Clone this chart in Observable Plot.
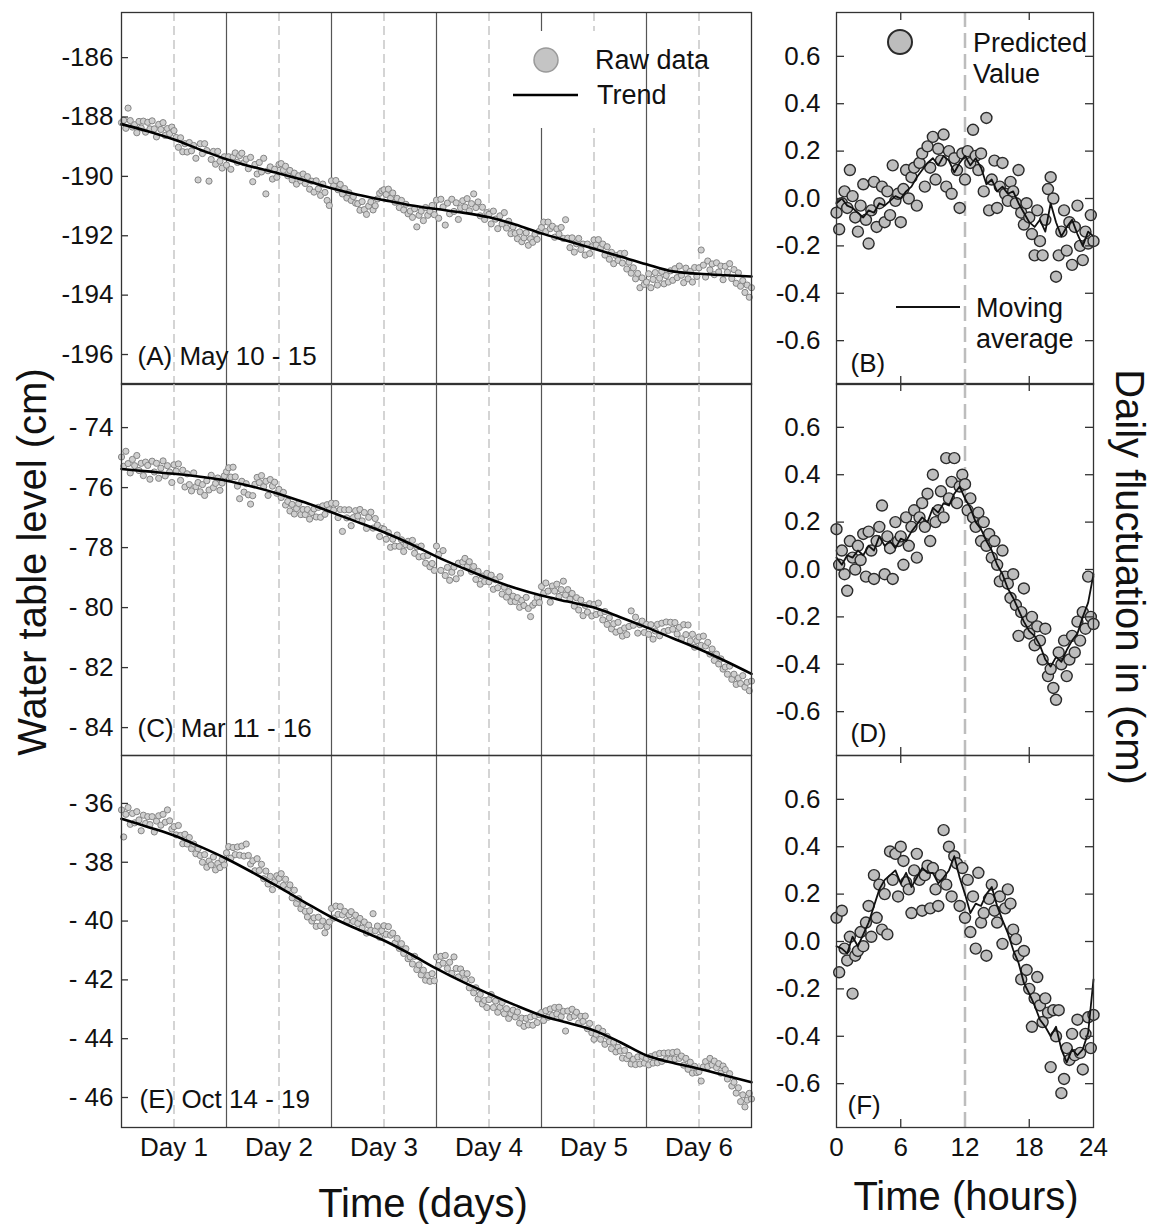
<!DOCTYPE html>
<html><head><meta charset="utf-8">
<script src="https://cdn.jsdelivr.net/npm/d3@7"></script>
<script src="https://cdn.jsdelivr.net/npm/@observablehq/plot@0.6"></script>
<style>
body{margin:0;background:#fff;}
#fig{position:relative;width:1155px;height:1224px;background:#fff;overflow:hidden;font-family:"Liberation Sans",Arial,sans-serif;}
</style></head><body><div id="fig"></div>
<script>
// ---------- tick values & labels ----------
const ticksA = [-196, -194, -192, -190, -188, -186];
const ticksC = [-84, -82, -80, -78, -76, -74];
const ticksE = [-46, -44, -42, -40, -38, -36];
const fluctTicks = [-0.6, -0.4, -0.2, 0, 0.2, 0.4, 0.6];
const hourTicks = [0, 6, 12, 18, 24];
const dayTicks = [0.5, 1.5, 2.5, 3.5, 4.5, 5.5];
const dayLabels = ["Day 1", "Day 2", "Day 3", "Day 4", "Day 5", "Day 6"];
const midnights = [1, 2, 3, 4, 5];
const panelLabels = ["(A) May 10 - 15", "(B)", "(C) Mar 11 - 16", "(D)", "(E) Oct 14 - 19", "(F)"];

// ---------- water table raw data (every 30 min, 6 days) ----------
const rawA = [
-188.19,-188.11,-188.38,-187.70,-188.12,-188.34,-188.26,-188.53,-188.15,-188.37,-188.14,-188.51,
-188.18,-188.40,-188.13,-188.40,-188.67,-188.25,-188.42,-188.19,-188.62,-188.39,-188.56,-188.34,
-188.46,-188.69,-189.02,-188.70,-189.17,-188.90,-189.18,-188.86,-189.14,-188.96,-189.39,-190.12,
-188.90,-189.23,-188.90,-189.13,-190.16,-189.43,-189.16,-189.59,-189.16,-189.49,-189.72,-189.34,
-189.62,-189.34,-189.76,-189.34,-189.21,-189.53,-189.30,-189.22,-189.54,-189.42,-189.74,-189.36,
-190.18,-189.60,-189.92,-189.53,-189.85,-189.39,-190.59,-189.81,-189.68,-190.09,-189.76,-190.03,
-189.60,-189.57,-189.79,-189.66,-189.98,-189.80,-190.12,-189.89,-190.26,-189.98,-190.15,-189.92,
-190.24,-190.01,-190.43,-190.16,-190.53,-190.15,-190.42,-190.64,-190.26,-190.54,-190.81,-190.98,
-190.15,-190.32,-190.14,-190.45,-190.27,-190.59,-190.41,-190.73,-190.55,-190.81,-190.68,-190.90,
-190.92,-191.14,-190.85,-191.12,-191.28,-191.00,-190.86,-191.13,-190.99,-190.76,-190.57,-190.49,
-190.45,-190.61,-190.43,-190.74,-190.56,-190.87,-190.74,-191.05,-190.81,-191.13,-190.94,-191.26,
-191.17,-191.38,-191.09,-191.70,-191.31,-191.17,-191.49,-191.05,-191.31,-191.17,-190.98,-191.29,
-190.80,-191.41,-190.77,-191.03,-191.64,-190.90,-191.26,-190.77,-191.18,-190.89,-191.45,-191.06,
-190.82,-191.03,-190.75,-191.16,-190.92,-190.59,-191.05,-190.86,-191.33,-191.04,-191.45,-191.22,
-191.28,-191.60,-191.17,-191.44,-191.76,-191.33,-191.60,-191.22,-191.74,-191.51,-191.93,-191.70,
-191.92,-192.10,-191.87,-192.20,-192.07,-191.90,-192.32,-192.10,-192.22,-191.95,-192.12,-191.85,
-191.72,-191.54,-191.86,-191.54,-191.76,-191.68,-192.05,-191.77,-191.94,-191.72,-192.09,-191.46,
-192.08,-192.40,-192.07,-192.55,-192.27,-192.09,-192.46,-192.28,-192.65,-192.28,-192.60,-192.37,
-192.14,-192.31,-192.13,-192.41,-192.28,-192.65,-192.37,-192.79,-192.56,-192.94,-192.66,-192.83,
-192.60,-192.92,-192.59,-193.12,-192.89,-193.26,-193.08,-193.45,-193.27,-193.75,-193.42,-193.64,
-193.56,-193.28,-193.75,-193.47,-193.24,-193.66,-193.43,-193.20,-193.62,-193.34,-193.56,-193.18,
-193.50,-193.11,-193.41,-193.02,-193.33,-193.58,-193.09,-193.45,-193.20,-193.56,-193.07,-193.37,
-193.08,-192.48,-192.99,-193.39,-192.85,-193.15,-192.95,-193.31,-192.91,-193.22,-193.02,-193.48,
-193.03,-193.23,-192.94,-193.44,-193.14,-193.60,-193.25,-193.70,-193.51,-193.91,-193.66,-194.07,
-193.75];
const rawC = [
-74.98,-75.29,-74.79,-75.20,-75.51,-75.06,-75.27,-74.93,-75.43,-75.19,-75.60,-75.15,
-75.26,-75.72,-75.12,-75.48,-75.19,-75.69,-75.35,-75.11,-75.61,-75.27,-75.48,-75.83,
-75.24,-75.45,-75.21,-75.76,-75.42,-75.98,-75.54,-75.90,-76.11,-75.51,-75.97,-75.83,
-76.14,-75.90,-76.26,-75.77,-76.08,-75.59,-76.00,-75.86,-75.68,-76.09,-75.85,-75.61,
-75.47,-75.34,-75.65,-75.32,-75.64,-75.95,-76.37,-75.79,-76.15,-75.87,-76.24,-76.55,
-76.27,-75.89,-75.66,-75.83,-75.60,-75.97,-75.79,-76.26,-75.73,-75.95,-75.82,-76.19,
-76.06,-76.33,-76.16,-76.58,-76.46,-76.78,-76.56,-76.88,-76.70,-76.53,-76.90,-76.73,
-76.90,-76.73,-77.05,-76.83,-76.71,-76.98,-76.66,-76.99,-76.61,-76.89,-76.57,-76.74,
-76.52,-76.75,-76.53,-77.00,-76.73,-77.46,-76.74,-77.01,-76.74,-77.27,-77.00,-76.77,
-76.95,-76.73,-77.11,-76.83,-77.36,-76.99,-76.82,-77.35,-77.03,-77.25,-77.63,-77.36,
-77.39,-77.72,-77.50,-77.99,-77.72,-77.95,-77.58,-77.96,-77.74,-78.13,-77.91,-77.79,
-77.97,-77.76,-78.19,-77.98,-78.31,-77.95,-78.29,-78.52,-78.26,-78.64,-78.53,-78.76,
-77.95,-78.23,-78.76,-78.10,-78.93,-78.66,-79.09,-78.82,-78.65,-79.04,-78.52,-78.85,
-78.48,-78.36,-78.64,-78.47,-78.80,-78.63,-79.06,-78.79,-79.22,-78.95,-79.13,-78.86,
-79.14,-78.92,-79.39,-79.07,-79.34,-78.97,-79.55,-79.32,-79.65,-79.47,-79.80,-79.62,
-79.80,-79.67,-79.99,-79.76,-79.93,-79.66,-80.03,-80.30,-79.92,-79.84,-79.66,-79.83,
-79.30,-79.52,-79.18,-79.45,-79.82,-79.28,-79.45,-79.22,-79.63,-79.40,-79.12,-79.58,
-79.40,-79.72,-79.53,-79.95,-79.67,-80.08,-79.75,-80.27,-79.93,-80.15,-79.87,-80.28,
-79.90,-80.23,-79.85,-80.18,-80.41,-80.13,-80.56,-80.34,-80.71,-80.54,-80.82,-80.49,
-80.77,-80.95,-80.68,-80.90,-80.63,-80.11,-80.59,-80.32,-80.85,-80.57,-80.45,-80.83,
-80.56,-80.89,-80.57,-81.05,-80.78,-80.56,-80.94,-80.52,-80.80,-80.48,-80.76,-80.49,
-80.72,-80.50,-80.88,-80.66,-81.04,-80.57,-80.90,-80.58,-81.11,-80.89,-81.32,-81.10,
-80.98,-81.26,-80.95,-81.28,-81.16,-81.55,-81.38,-81.76,-81.55,-81.88,-81.71,-82.05,
-81.98,-82.22,-81.95,-82.39,-82.22,-82.56,-82.35,-82.53,-82.27,-82.65,-82.49,-82.77,
-82.45];
const rawE = [
-36.22,-37.14,-36.37,-36.14,-36.71,-36.34,-36.66,-36.28,-36.56,-36.93,-36.40,-36.68,
-36.45,-36.72,-36.45,-36.97,-36.60,-36.42,-36.74,-36.37,-36.64,-36.22,-36.59,-36.87,
-36.79,-37.07,-36.75,-37.09,-37.37,-37.05,-37.38,-37.16,-37.54,-37.38,-37.71,-37.54,
-37.77,-38.00,-37.74,-38.17,-37.96,-38.09,-37.82,-38.26,-38.04,-38.18,-37.91,-38.09,
-37.68,-37.47,-37.86,-37.50,-37.74,-37.48,-37.76,-37.45,-37.79,-37.38,-37.77,-38.06,
-37.95,-38.29,-37.88,-38.28,-38.07,-38.56,-38.30,-38.74,-38.48,-38.93,-38.67,-38.46,
-38.55,-38.39,-38.79,-38.58,-38.92,-38.77,-39.21,-38.95,-39.40,-39.24,-39.58,-39.43,
-39.67,-39.86,-39.65,-40.00,-39.89,-40.18,-39.87,-40.16,-40.00,-40.40,-40.19,-40.03,
-39.57,-39.90,-39.49,-39.77,-39.51,-39.79,-39.67,-40.01,-39.79,-39.68,-40.01,-39.80,
-40.08,-39.91,-40.24,-40.03,-40.41,-40.14,-40.32,-39.75,-40.33,-40.17,-40.55,-40.33,
-40.16,-40.45,-40.19,-40.48,-40.41,-40.75,-40.59,-40.93,-40.77,-41.10,-40.94,-41.28,
-41.22,-41.46,-41.20,-41.65,-41.49,-41.83,-41.67,-42.01,-41.85,-42.05,-41.79,-42.03,
-41.22,-41.51,-41.20,-41.43,-41.17,-41.61,-41.40,-41.78,-41.22,-41.61,-41.90,-41.63,
-41.77,-42.00,-41.79,-42.27,-42.00,-42.44,-42.27,-42.65,-42.49,-42.82,-42.70,-42.94,
-42.67,-42.50,-42.94,-42.72,-43.10,-42.93,-42.77,-43.15,-42.98,-43.31,-43.15,-43.03,
-43.26,-43.09,-43.47,-43.30,-43.58,-43.31,-43.53,-43.26,-43.54,-43.22,-43.45,-43.18,
-43.11,-43.38,-43.05,-43.27,-42.99,-43.21,-42.94,-43.16,-42.93,-43.25,-43.07,-43.74,
-43.06,-43.28,-43.00,-43.23,-43.10,-43.47,-43.24,-43.41,-43.23,-43.66,-43.48,-43.80,
-44.02,-43.85,-43.64,-44.02,-43.75,-44.19,-43.92,-44.10,-44.34,-44.12,-44.45,-44.29,
-44.42,-44.66,-44.40,-44.68,-44.57,-44.86,-44.70,-44.88,-44.62,-44.86,-44.60,-44.83,
-44.67,-44.89,-44.61,-44.83,-44.55,-44.82,-44.50,-44.77,-44.49,-44.71,-44.48,-44.70,
-44.47,-44.69,-44.45,-44.67,-44.59,-44.90,-44.67,-45.04,-44.80,-45.17,-44.94,-45.15,
-45.12,-45.44,-44.96,-44.78,-44.95,-44.67,-44.89,-44.76,-44.98,-44.85,-45.17,-44.93,
-45.05,-45.37,-45.19,-45.61,-45.48,-45.85,-45.67,-46.14,-45.91,-46.32,-46.09,-45.86,
-46.05];

// ---------- trend (every quarter day) ----------
const trendA = [-188.24,-188.48,-188.76,-189.10,-189.42,-189.68,-189.90,-190.14,-190.40,-190.62,-190.80,-190.97,-191.10,-191.22,-191.38,-191.62,-191.92,-192.18,-192.44,-192.70,-192.96,-193.20,-193.28,-193.33,-193.37];
const trendC = [-75.38,-75.46,-75.54,-75.64,-75.77,-75.97,-76.21,-76.50,-76.82,-77.15,-77.49,-77.87,-78.30,-78.68,-79.04,-79.35,-79.60,-79.80,-80.00,-80.32,-80.66,-81.02,-81.38,-81.78,-82.21];
const trendE = [-36.52,-36.80,-37.09,-37.47,-37.88,-38.35,-38.85,-39.37,-39.87,-40.28,-40.66,-41.12,-41.62,-42.07,-42.47,-42.86,-43.21,-43.46,-43.72,-44.12,-44.57,-44.82,-45.02,-45.25,-45.48];

// ---------- daily fluctuation: predicted values (every 15 min) ----------
const ptsB = [
-0.06,-0.13,-0.02,0.03, -0.04,0.12,0.01,-0.08, -0.14,-0.03,0.06,-0.09, -0.19,-0.05,0.07,-0.12,
-0.02,0.05,-0.10,0.03, -0.07,0.14,-0.01,0.02, -0.10,0.04,0.12,0.00, 0.09,0.13,-0.03,0.15,
0.19,0.05,0.22,0.13, 0.26,0.08,0.21,0.16, 0.27,0.05,0.20,0.02, 0.17,0.12,-0.04,0.19,
0.08,0.20,0.15,0.29, 0.18,0.12,0.19,0.03, 0.34,-0.05,0.08,0.16, -0.04,0.05,0.15,0.02,
-0.01,0.07,0.03,-0.02, 0.12,-0.06,-0.11,-0.02, -0.08,-0.15,-0.24,-0.05, -0.18,-0.24,-0.09,0.04,
0.09,0.00,-0.33,-0.24, -0.14,-0.05,-0.22,-0.10, -0.28,-0.12,-0.03,-0.20, -0.26,-0.14,-0.19,-0.07,
-0.18];
const ptsD = [
0.17,0.02,0.08,-0.02, -0.09,0.12,0.05,0.00, 0.10,0.04,0.15,-0.03, 0.16,0.08,-0.04,0.12,
0.18,0.27,-0.02,0.14, 0.09,-0.04,0.20,0.12, 0.14,0.02,0.22,0.10, 0.18,0.25,0.05,0.22,
0.28,0.18,0.32,0.12, 0.40,0.20,0.25,0.33, 0.22,0.47,0.30,0.37, 0.47,0.28,0.35,0.40,
0.36,0.25,0.30,0.22, 0.18,0.24,0.12,0.20, 0.10,0.15,0.05,0.12, 0.02,-0.05,0.08,-0.03,
-0.06,-0.12,-0.02,-0.15, -0.28,-0.18,-0.08,-0.22, -0.27,-0.20,-0.32,-0.24, -0.30,-0.38,-0.25,-0.45,
-0.42,-0.50,-0.55,-0.35, -0.40,-0.30,-0.45,-0.38, -0.28,-0.35,-0.22,-0.30, -0.18,-0.25,-0.03,-0.20,
-0.23];
const ptsF = [
0.10,-0.13,0.13,-0.03, -0.08,0.02,-0.22,-0.06, -0.04,0.04,-0.02,0.08, 0.15,0.02,0.28,0.10,
0.24,0.05,0.20,0.03, 0.38,0.26,0.37,0.19, 0.40,0.34,0.25,0.22, 0.12,0.30,0.37,0.26,
0.13,0.28,0.32,0.14, 0.31,0.22,0.15,0.28, 0.47,0.24,0.40,0.19, 0.36,0.33,0.15,0.31,
0.10,0.26,0.04,0.19, -0.03,0.29,0.08,0.12, -0.06,0.18,0.24,0.13, 0.08,0.19,-0.01,0.14,
0.22,0.16,0.05,0.01, -0.06,-0.16,-0.04,-0.12, -0.20,-0.36,-0.24,-0.15, -0.27,-0.34,-0.24,-0.30,
-0.53,-0.29,-0.40,-0.29, -0.64,-0.58,-0.45,-0.50, -0.39,-0.48,-0.33,-0.47, -0.54,-0.39,-0.32,-0.45,
-0.31];

// ---------- moving averages (every 30 min) ----------
const maB = [-0.02,0.00,-0.03,-0.04,-0.06,-0.08,-0.05,-0.06,-0.02,-0.03,-0.01,0.01,0.00,0.03,0.05,0.09,0.12,0.15,0.17,0.14,0.18,0.16,0.11,0.15,0.18,0.14,0.17,0.13,0.06,0.08,0.03,0.05,0.02,0.03,-0.02,-0.06,-0.10,-0.12,-0.09,-0.14,-0.02,-0.10,-0.16,-0.12,-0.09,-0.15,-0.20,-0.14,-0.16];
const maD = [0.05,0.02,0.06,0.05,0.08,0.06,0.10,0.08,0.14,0.10,0.12,0.09,0.13,0.12,0.16,0.19,0.22,0.20,0.26,0.24,0.28,0.27,0.32,0.35,0.30,0.26,0.20,0.17,0.12,0.08,0.02,-0.02,-0.08,-0.12,-0.17,-0.22,-0.26,-0.28,-0.32,-0.38,-0.41,-0.37,-0.39,-0.34,-0.30,-0.27,-0.20,-0.14,-0.02];
const maF = [-0.02,-0.03,-0.05,0.02,-0.02,0.03,0.08,0.15,0.22,0.26,0.28,0.30,0.245,0.29,0.23,0.27,0.31,0.29,0.29,0.245,0.27,0.30,0.36,0.27,0.20,0.12,0.16,0.15,0.20,0.23,0.15,0.09,0.035,-0.035,-0.09,-0.175,-0.22,-0.27,-0.33,-0.36,-0.40,-0.36,-0.455,-0.51,-0.455,-0.48,-0.455,-0.385,-0.16];

// ---------- rendering ----------
const FONT = '"Liberation Sans", Arial, sans-serif';
const fig = document.getElementById("fig");
const FH = 372;

function place(svg, left, top) {
  svg.style.position = "absolute";
  svg.style.left = left + "px";
  svg.style.top = top + "px";
  fig.appendChild(svg);
}

function leftPanel(raw, trend, yDomain, yTicks, fmt, label, lx, ly, top, mt, mb, showX) {
  const FW = 630;
  const rows = raw.map((v, i) => ({t: i / 48, v}));
  const trows = trend.map((v, i) => ({t: i / 4, v}));
  const svg = Plot.plot({
    width: 770, height: mt + FH + mb,
    marginLeft: 121, marginRight: 19, marginTop: mt, marginBottom: mb,
    style: {fontFamily: FONT, fontSize: "26px", color: "#111", background: "transparent", overflow: "visible"},
    x: showX
      ? {domain: [0, 6], ticks: dayTicks, tickFormat: d => dayLabels[dayTicks.indexOf(d)], tickSize: 0, tickPadding: 10, label: null}
      : {domain: [0, 6], axis: null},
    y: {domain: yDomain, ticks: yTicks, tickFormat: fmt, tickSize: 0, tickPadding: 8, label: null},
    marks: [
      Plot.ruleX(midnights, {stroke: "#555", strokeWidth: 1.2}),
      Plot.ruleX(dayTicks, {stroke: "#c6c6c6", strokeWidth: 1.5, strokeDasharray: "9,5"}),
      Plot.dot(rows, {x: "t", y: "v", r: 3.1, fill: "#cfcfcf", stroke: "#858585", strokeWidth: 1}),
      Plot.line(trows, {x: "t", y: "v", stroke: "#000", strokeWidth: 2.6, curve: "catmull-rom"}),
      Plot.frame({stroke: "#333", strokeWidth: 1.3}),
      Plot.ruleY(yTicks, {stroke: "#333", strokeWidth: 1.3, insetRight: FW - 7}),
      Plot.text([label], {frameAnchor: "bottom-left", dx: lx, dy: ly, textAnchor: "start", lineAnchor: "middle", fontSize: 26, fill: "#111"})
    ]
  });
  place(svg, 0, top);
}

function rightPanel(pts, ma, label, lx, ly, top, mt, mb, showX) {
  const FW = 257;
  const rows = pts.map((v, i) => ({t: i / 4, v}));
  const mrows = ma.map((v, i) => ({t: i / 2, v}));
  const svg = Plot.plot({
    width: 380, height: mt + FH + mb,
    marginLeft: 96, marginRight: 27, marginTop: mt, marginBottom: mb,
    style: {fontFamily: FONT, fontSize: "26px", color: "#111", background: "transparent", overflow: "visible"},
    x: showX
      ? {domain: [0, 24], ticks: hourTicks, tickFormat: d => String(d), tickSize: 0, tickPadding: 10, label: null}
      : {domain: [0, 24], axis: null},
    y: {domain: [-0.785, 0.785], ticks: fluctTicks, tickFormat: d => d.toFixed(1), tickSize: 0, tickPadding: 16, label: null},
    marks: [
      Plot.ruleX([12], {stroke: "#bdbdbd", strokeWidth: 2.5, strokeDasharray: "15,6"}),
      Plot.dot(rows, {x: "t", y: "v", r: 5.5, fill: "#bdbdbd", stroke: "#2a2a2a", strokeWidth: 1.4}),
      Plot.line(mrows, {x: "t", y: "v", stroke: "#111", strokeWidth: 1.8}),
      Plot.frame({stroke: "#333", strokeWidth: 1.3}),
      Plot.ruleY(fluctTicks, {stroke: "#333", strokeWidth: 1.3, insetRight: FW - 8}),
      Plot.ruleY(fluctTicks, {stroke: "#333", strokeWidth: 1.3, insetLeft: FW - 8}),
      Plot.ruleX([6, 18], {stroke: "#333", strokeWidth: 1.3, insetBottom: FH - 8}),
      Plot.ruleX([6, 18], {stroke: "#333", strokeWidth: 1.3, insetTop: FH - 8}),
      Plot.text([label], {frameAnchor: "bottom-left", dx: lx, dy: ly, textAnchor: "start", lineAnchor: "middle", fontSize: 26, fill: "#111"})
    ]
  });
  place(svg, 740, top);
}

const fmtA = d => "-" + Math.abs(d);
const fmtCE = d => "- " + Math.abs(d);

leftPanel(rawA, trendA, [-197.01, -184.48], ticksA, fmtA, panelLabels[0], 16, -28, 0, 12, 5, false);
leftPanel(rawC, trendC, [-84.93, -72.53], ticksC, fmtCE, panelLabels[2], 16, -27, 378, 5, 5, false);
leftPanel(rawE, trendE, [-47.02, -34.37], ticksE, fmtCE, panelLabels[4], 18, -28, 750, 5, 60, true);
rightPanel(ptsB, maB, panelLabels[1], 14, -21, 0, 12, 5, false);
rightPanel(ptsD, maD, panelLabels[3], 14, -22, 378, 5, 5, false);
rightPanel(ptsF, maF, panelLabels[5], 11, -22, 750, 5, 60, true);

// ---------- legends and axis titles ----------
const ov = d3.create("svg").attr("width", 1155).attr("height", 1224)
  .style("position", "absolute").style("left", "0px").style("top", "0px")
  .attr("font-family", FONT).attr("fill", "#111");
ov.append("rect").attr("x", 500).attr("y", 31).attr("width", 96).attr("height", 97).attr("fill", "#fff");
ov.append("circle").attr("cx", 546).attr("cy", 60).attr("r", 12).attr("fill", "#c4c4c4").attr("stroke", "#9a9a9a").attr("stroke-width", 1.5);
ov.append("line").attr("x1", 513).attr("x2", 578).attr("y1", 95).attr("y2", 95).attr("stroke", "#000").attr("stroke-width", 2.5);
ov.append("circle").attr("cx", 900).attr("cy", 42).attr("r", 12).attr("fill", "#bdbdbd").attr("stroke", "#2a2a2a").attr("stroke-width", 2);
ov.append("line").attr("x1", 896).attr("x2", 960).attr("y1", 307).attr("y2", 307).attr("stroke", "#111").attr("stroke-width", 2);
const legendTexts = [
  ["Raw data", 595, 60], ["Trend", 597, 95],
  ["Predicted", 973, 43], ["Value", 973, 74],
  ["Moving", 976, 308], ["average", 976, 339]
];
for (const [s, x, y] of legendTexts) {
  ov.append("text").attr("x", x).attr("y", y).attr("dy", "0.35em").attr("font-size", 27).text(s);
}
ov.append("text").attr("transform", "translate(32,562) rotate(-90)").attr("text-anchor", "middle").attr("dy", "0.35em").attr("font-size", 40).text("Water table level (cm)");
ov.append("text").attr("transform", "translate(1130,577) rotate(90)").attr("text-anchor", "middle").attr("dy", "0.35em").attr("font-size", 40).text("Daily fluctuation in (cm)");
ov.append("text").attr("x", 423).attr("y", 1217).attr("text-anchor", "middle").attr("font-size", 40).text("Time (days)");
ov.append("text").attr("x", 966).attr("y", 1210).attr("text-anchor", "middle").attr("font-size", 40).text("Time (hours)");
fig.appendChild(ov.node());
</script></body></html>
